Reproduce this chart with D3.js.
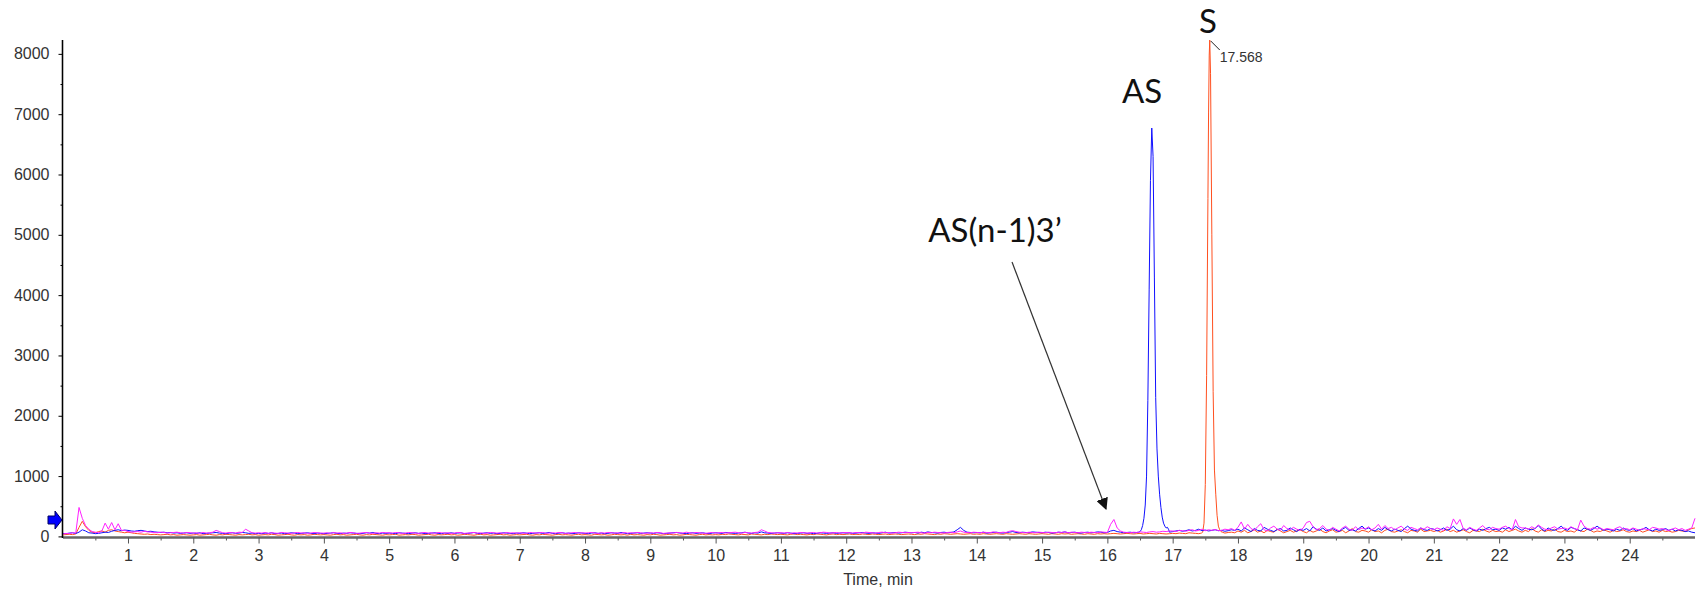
<!DOCTYPE html>
<html>
<head>
<meta charset="utf-8">
<script src="https://cdn.jsdelivr.net/npm/d3@7"></script>
<style>
  html, body { margin: 0; padding: 0; background: #fff; }
  svg { display: block; }
  .tick text { font-family: "Liberation Sans", Arial, sans-serif; font-size: 16px; fill: #333; }
  .ann { font-family: Lato, "Open Sans", sans-serif; font-size: 33px; fill: #111; }
</style>
</head>
<body>
<svg id="chart" width="1699" height="590"></svg>
<script>
// sampled trace values, one every 0.05 min from 0 to 25
const sampleStep = 0.05;

const blueBase = [
  50,45,55,60,48,70,110,90,60,55,45,50,60,70,65,85,100,110,95,105,
  100,90,85,95,100,90,80,85,75,70,65,70,60,65,55,60,50,55,60,50,
  55,50,60,45,50,55,60,65,55,50,45,55,60,50,55,65,60,50,55,45,
  50,45,55,50,60,45,50,55,45,50,60,55,45,50,55,60,50,45,55,50,
  45,50,55,60,50,45,55,50,60,55,50,45,50,60,55,65,50,45,55,50,
  55,50,45,60,55,50,45,55,60,50,55,45,50,55,60,50,45,55,50,60,
  50,55,60,45,50,55,65,50,45,55,60,50,55,45,50,60,55,50,45,55,
  50,60,55,45,50,55,60,50,55,65,50,45,55,60,50,55,45,50,60,55,
  50,45,55,60,50,55,45,50,60,55,50,65,55,45,50,55,60,50,55,60,
  55,50,60,55,45,50,55,60,65,55,50,45,55,60,50,55,60,50,45,55,
  60,55,50,65,60,55,50,55,60,70,55,50,60,55,75,60,55,50,55,60,
  55,50,60,55,45,50,55,60,50,55,45,50,60,55,50,55,60,50,55,60,
  55,60,50,55,60,65,55,50,60,55,50,60,70,55,60,65,55,60,70,65,
  60,65,55,70,60,75,65,60,55,65,70,60,65,75,110,150,100,70,65,60,
  65,60,70,55,60,65,70,60,55,65,70,80,65,60,70,65,60,75,70,65,
  60,70,65,55,60,70,65,75,60,65,70,60,55,65,70,60,65,75,70,60,
  65,90,100,80,70,60,65,70,60,65,70,75,80,90,110,120,100,90,80,70,
  80,90,100,85,95,110,90,100,120,95,105,90,100,110,95,100,85,95,110,100,
  120,90,140,110,80,130,100,90,150,120,100,80,110,130,90,100,140,110,80,120,
  100,130,90,160,120,100,140,90,110,130,100,80,120,150,100,110,90,130,170,120,
  140,110,90,130,100,150,110,90,120,100,80,130,170,120,100,90,140,110,100,130,
  120,90,110,140,100,120,170,110,90,130,100,140,110,90,120,100,130,150,110,120,
  100,140,120,150,110,170,130,100,140,120,110,130,180,120,90,140,110,100,130,170,
  120,100,150,130,110,90,140,120,100,130,170,130,100,120,110,90,120,100,140,110,
  100,130,90,110,120,150,110,90,120,100,110,130,100,120,90,110,100,80,90,70,
  60
];

const magentaBase = [
  40,50,45,60,55,480,300,180,120,80,70,60,90,220,120,230,110,210,100,100,
  80,70,75,80,70,85,75,70,65,60,70,65,55,60,65,70,60,55,65,60,
  55,60,50,65,55,60,70,100,80,60,55,65,60,55,70,65,120,90,60,55,
  60,55,65,50,60,55,50,65,60,55,50,60,65,55,60,50,55,65,60,55,
  55,60,50,65,55,60,50,55,65,60,50,55,60,65,55,50,60,55,65,60,
  60,55,65,60,50,55,65,60,55,50,60,65,55,60,50,65,60,55,60,50,
  55,65,60,50,55,60,65,55,60,50,55,65,60,55,60,50,65,55,60,55,
  60,55,50,65,60,55,60,65,50,55,60,55,65,60,50,55,60,65,55,60,
  55,60,65,55,50,60,55,65,60,55,60,50,65,55,60,55,65,60,50,55,
  60,55,65,60,50,55,60,55,65,60,55,70,60,55,65,60,55,50,60,65,
  55,60,65,55,60,65,70,60,55,65,60,55,65,70,110,90,65,60,55,60,
  60,55,65,50,60,55,65,60,55,60,65,55,60,70,65,55,60,65,55,60,
  65,60,55,65,60,55,70,65,60,55,65,70,60,65,55,60,70,65,60,65,
  60,65,70,60,55,65,60,70,65,60,55,65,70,60,75,90,70,65,60,70,
  65,60,70,65,60,75,65,60,70,65,85,95,80,70,65,60,70,65,60,70,
  65,60,70,65,60,70,65,75,60,70,65,60,70,65,60,70,65,60,75,70,
  65,200,280,140,90,70,65,60,70,65,75,70,65,75,80,70,75,85,80,90,
  90,80,100,95,85,100,110,90,100,120,95,110,100,115,95,100,120,110,130,100,
  150,240,120,200,130,100,160,210,110,90,140,170,120,100,180,130,110,150,120,100,
  140,230,250,160,110,130,180,120,100,150,120,90,140,170,120,100,160,110,140,120,
  160,110,140,200,120,180,130,150,110,140,170,120,100,150,130,110,140,120,160,130,
  110,140,120,100,160,130,290,200,280,130,110,150,120,100,140,180,120,110,150,130,
  120,150,170,130,110,280,160,140,140,120,160,130,190,150,120,110,140,160,120,130,
  140,120,160,130,110,270,170,130,120,150,120,140,110,130,120,110,140,160,120,130,
  110,140,120,100,130,120,110,150,140,120,130,110,100,120,140,110,130,100,120,140,
  300
];

const orangeBase = [
  25,30,35,30,40,150,250,160,100,70,60,80,90,70,100,110,90,80,70,60,
  70,60,50,45,40,35,40,30,35,30,25,30,35,25,30,20,25,30,25,20,
  25,30,20,25,30,35,25,20,30,25,35,30,25,20,30,25,30,35,25,30,
  20,25,30,25,35,30,20,25,30,35,25,20,30,25,30,20,25,35,30,25,
  30,25,20,30,35,25,30,20,25,30,35,25,20,30,25,35,30,25,20,30,
  25,30,35,20,25,30,25,35,30,20,25,30,35,25,20,30,25,30,35,25,
  30,20,25,35,30,25,20,30,35,25,30,20,25,30,35,25,30,20,25,30,
  25,30,35,25,20,30,25,35,30,25,20,30,35,25,30,25,20,30,35,25,
  30,25,20,35,30,25,30,20,25,35,30,25,30,20,35,25,30,25,20,30,
  25,35,30,20,25,30,35,25,30,20,25,35,30,25,20,30,35,25,30,25,
  30,25,35,30,40,35,30,25,35,30,25,40,35,30,25,35,30,40,35,30,
  35,30,25,35,40,30,35,30,25,35,30,40,35,30,25,35,40,30,35,30,
  35,40,30,35,30,40,35,30,40,35,30,35,40,30,35,40,35,30,35,40,
  35,30,40,35,45,40,35,30,40,35,45,40,35,40,45,40,35,40,45,35,
  40,35,45,40,35,40,45,40,35,45,40,35,40,45,40,35,45,40,35,40,
  45,40,35,45,40,35,45,40,45,35,40,45,40,35,45,40,35,45,40,45,
  40,45,50,45,40,45,50,45,40,45,50,40,45,50,45,40,50,45,40,45,
  50,45,55,50,45,60,55,50,45,50,55,50,60,55,50,60,55,65,70,60,
  90,70,100,60,80,110,70,90,60,100,80,70,120,90,60,80,100,70,90,110,
  80,60,100,70,90,120,80,60,90,110,70,80,100,60,90,130,80,70,100,90,
  70,110,80,90,60,100,120,80,70,90,110,80,60,100,90,70,120,80,90,100,
  80,100,70,90,120,80,100,70,90,110,80,60,100,90,80,120,90,70,100,80,
  90,70,110,80,100,120,90,70,100,80,130,90,70,110,80,100,90,120,80,70,
  100,80,90,70,110,90,80,120,100,70,90,80,110,90,70,100,80,90,110,80,
  70,90,80,100,70,90,110,80,90,70,100,80,90,70,80,100,90,80,110,130,
  140
];

// finer samples across the two main peaks
const bluePeakTimes = [16.48,16.50,16.52,16.54,16.56,16.58,16.60,16.62,16.64,16.66,16.68,16.70,
  16.72,16.74,16.76,16.78,16.80,16.82,16.84,16.86,16.88,16.90,16.92,16.94];
const bluePeakValues = [70,80,110,180,300,520,1000,2250,4100,5900,6770,6300,
  4300,2300,1450,1000,700,480,320,220,170,140,150,110];

const orangePeakTimes = [17.42,17.44,17.46,17.48,17.50,17.52,17.54,17.55,17.56,17.568,17.58,17.60,
  17.62,17.64,17.66,17.68,17.70,17.72,17.74,17.76];
const orangePeakValues = [50,55,70,220,860,2670,5600,7020,7980,8230,7670,5000,
  2400,1100,700,350,170,110,80,70];

const xTicks = d3.range(1, 25);
const yTicks = [0,1000,2000,3000,4000,5000,6000,7000,8000];
const apexLabel = "17.568";
const apexTime = 17.568;
const apexValue = 8230;

const svg = d3.select('#chart');
svg.append('rect').attr('width', 1699).attr('height', 590).attr('fill', '#fff');

const x = d3.scaleLinear().domain([0, 25]).range([62.7, 1695]);
const y = d3.scaleLinear().domain([0, 8230]).range([536.4, 40]);

// build [t, v] lists, peaks override the coarse samples in their window
function buildTrace(base, peakT, peakV) {
  let pts = base.map((v, i) => [i * sampleStep, v]);
  if (peakT) {
    const lo = peakT[0], hi = peakT[peakT.length - 1];
    pts = pts.filter(p => p[0] < lo - 1e-9 || p[0] > hi + 1e-9);
    peakT.forEach((t, i) => pts.push([t, peakV[i]]));
    pts.sort((a, b) => a[0] - b[0]);
  }
  return pts;
}

const traces = [
  { color: '#ff5020', pts: buildTrace(orangeBase, orangePeakTimes, orangePeakValues) },
  { color: '#1010ff', pts: buildTrace(blueBase, bluePeakTimes, bluePeakValues) },
  { color: '#ff20ff', pts: buildTrace(magentaBase) }
];

const line = d3.line().x(d => x(d[0])).y(d => y(d[1]));

traces.forEach(tr => {
  svg.append('path')
    .attr('d', line(tr.pts))
    .attr('fill', 'none')
    .attr('stroke', tr.color)
    .attr('stroke-width', 1)
    .attr('stroke-linejoin', 'round');
});

// x axis: minor then major
const xMinor = svg.append('g').attr('transform', 'translate(0,537.5)')
  .call(d3.axisBottom(x).tickValues(d3.range(0.5, 25, 1)).tickSize(3).tickFormat(''));
const xAxis = svg.append('g').attr('transform', 'translate(0,537.5)')
  .call(d3.axisBottom(x).tickValues(xTicks).tickSize(6).tickPadding(6).tickFormat(d3.format('d')));
[xMinor, xAxis].forEach(g => {
  g.select('.domain').attr('stroke', '#666').attr('stroke-width', 2).attr('d', 'M63,0H1695');
  g.selectAll('.tick line').attr('stroke', '#555');
});

// y axis
const yMinor = svg.append('g').attr('transform', 'translate(62.5,0)')
  .call(d3.axisLeft(y).tickValues(d3.range(500, 8230, 1000)).tickSize(2).tickFormat(''));
const yAxis = svg.append('g').attr('transform', 'translate(62.5,0)')
  .call(d3.axisLeft(y).tickValues(yTicks).tickSize(4).tickPadding(9).tickFormat(d3.format('d')));
[yMinor, yAxis].forEach(g => {
  g.select('.domain').attr('stroke', '#000').attr('stroke-width', 1.3).attr('d', 'M0,40V538');
  g.selectAll('.tick line').attr('stroke', '#000');
});

svg.append('text')
  .attr('x', 878).attr('y', 585)
  .attr('text-anchor', 'middle')
  .style('font-family', '"Liberation Sans", Arial, sans-serif')
  .style('font-size', '16px').style('fill', '#333')
  .text('Time, min');

// blue marker on the y axis
svg.append('path')
  .attr('d', 'M48,516H55V511L62,520L55,529V524H48Z')
  .attr('fill', '#0000ff').attr('stroke', '#000060').attr('stroke-width', 1);

// apex label of S peak
const ax = x(apexTime), ay = y(apexValue);
svg.append('line')
  .attr('x1', ax + 1).attr('y1', ay + 1).attr('x2', ax + 10).attr('y2', ay + 10)
  .attr('stroke', '#222').attr('stroke-width', 1);
svg.append('text')
  .attr('x', ax + 10).attr('y', ay + 22)
  .style('font-family', '"Liberation Sans", Arial, sans-serif')
  .style('font-size', '14px').style('fill', '#333')
  .text(apexLabel);

// peak annotations
svg.append('text').attr('class', 'ann').attr('x', 1208).attr('y', 33).attr('text-anchor', 'middle').text('S');
svg.append('text').attr('class', 'ann').attr('x', 1142).attr('y', 103).attr('text-anchor', 'middle').text('AS');
svg.append('text').attr('class', 'ann').attr('x', 995).attr('y', 242).attr('text-anchor', 'middle').text('AS(n-1)3\u2019');

// arrow to the small n-1 peak
svg.append('defs').append('marker')
  .attr('id', 'head').attr('viewBox', '0 0 10 10')
  .attr('refX', 9).attr('refY', 5)
  .attr('markerWidth', 12).attr('markerHeight', 12)
  .attr('markerUnits', 'userSpaceOnUse')
  .attr('orient', 'auto')
  .append('path').attr('d', 'M0,0L10,5L0,10Z').attr('fill', '#111');
svg.append('line')
  .attr('x1', 1012).attr('y1', 262).attr('x2', 1106).attr('y2', 509)
  .attr('stroke', '#333').attr('stroke-width', 1.2)
  .attr('marker-end', 'url(#head)');
</script>
</body>
</html>
